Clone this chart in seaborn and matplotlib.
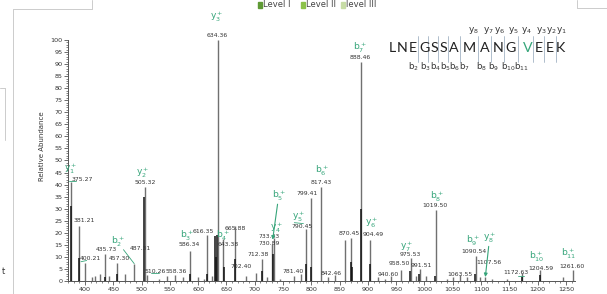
import numpy as np
import pandas as pd
import matplotlib
matplotlib.use("Agg")
import matplotlib.pyplot as plt
from matplotlib.lines import Line2D
import seaborn as sns

# ---------------- data ----------------
# main (grey) peaks: m/z position, relative abundance
grey_mz = [375.3, 390.0, 400.2, 412, 418, 426, 435.7, 442, 457.3, 470, 487.3, 505.3,
           510.3, 530, 545, 558.4, 574, 586.3, 600, 610, 616.4, 625, 634.4, 643.4,
           665.9, 685, 702.4, 712.4, 722, 730.9, 733.4, 745, 770, 781.4, 790.5, 799.4,
           817.4, 830, 842.5, 860, 870.5, 888.5, 904.5, 917, 930, 940.6, 958.5, 975.5,
           985, 991.5, 1003, 1019.5, 1040, 1050, 1063.6, 1075, 1090.5, 1098, 1107.6,
           1120, 1145, 1172.6, 1204.6, 1245, 1261.6]
grey_int = [41, 23, 7.5, 1.5, 2, 3, 11, 2, 7.5, 3, 7, 39,
            2.5, 1, 2, 2.5, 1.5, 12.5, 1.5, 1, 19, 2, 100, 17.5,
            23, 2, 3.5, 9, 1.5, 15.5, 18, 1, 2, 3, 21.5, 34.5,
            39, 1.5, 2.5, 17, 17.7, 91, 17, 1.5, 1, 2, 4.5, 9.5,
            2, 5, 2, 29.5, 1, 1.5, 2.5, 1.5, 10.5, 1.5, 1.5,
            1, 1, 3.5, 4.5, 1.5, 4.5]
# overlay (black) peaks
black_mz = [374.5, 389.5, 435.5, 457.0, 504.8, 586.0, 616.0, 630, 632, 634.0, 645.5,
            665.5, 712.0, 733.0, 790.0, 799.0, 869.5, 872.5, 888.0, 904.0, 975.0,
            990.0, 1019.0, 1090.0, 1172.0, 1204.0]
black_int = [31, 9.5, 1.5, 3, 35, 3, 3, 18.5, 10, 19, 6,
             9, 4, 11, 7, 6, 8, 6, 30, 7, 4,
             3, 2, 3, 1.5, 2.5]

# numeric labels: text, x, y (centre)
num_text = ["375.27", "381.21", "400.21", "435.73", "457.30", "487.31", "505.32", "510.26",
            "558.36", "586.34", "616.35", "634.36", "643.38", "665.88", "702.40", "712.38",
            "733.43", "730.89", "781.40", "790.45", "799.41", "817.43", "842.46", "870.45",
            "888.46", "904.49", "940.60", "958.50", "975.53", "991.51", "1019.50", "1063.55",
            "1090.54", "1107.56", "1172.63", "1204.59", "1261.60"]
num_x = [395, 398, 410, 437, 460, 498, 506, 525, 561, 585, 610, 634, 654, 665, 676, 706,
         725, 725, 767, 784, 792, 818, 836, 867, 886, 910, 936, 955, 975, 995, 1019, 1063,
         1088, 1114, 1161, 1205, 1261]
num_y = [42.3, 25.3, 9.4, 12.9, 9.5, 13.5, 40.8, 4.1, 4.1, 15.2, 20.5, 102, 15.2, 21.6,
         5.9, 10.8, 18.4, 15.4, 4.1, 22.8, 36.4, 40.8, 3.2, 19.8, 92.8, 19.4, 2.5, 7.1,
         10.8, 6.6, 31.5, 2.8, 12.4, 7.8, 3.5, 5.3, 6.2]

# fragment ion labels (centre)
ion_text = [r"y$_1^+$", r"y$_3^+$", r"y$_2^+$", r"b$_2^+$", r"b$_3^+$", r"b$_4^+$", r"b$_5^+$",
            r"y$_4^+$", r"y$_5^+$", r"b$_6^+$", r"b$_7^+$", r"y$_6^+$", r"y$_7^+$", r"b$_8^+$",
            r"b$_9^+$", r"y$_8^+$", r"b$_{10}^+$", r"b$_{11}^+$"]
ion_x = [374, 633, 502, 458, 580, 644, 742, 738, 778, 818, 886, 906, 969, 1022, 1085,
         1115, 1199, 1255]
ion_y = [46.5, 109.5, 45, 16.3, 18.8, 18.8, 35.5, 22.2, 26.5, 45.5, 96.5, 24.2, 14.3, 35,
         16.5, 17.9, 10.2, 11.2]

sequence = list("LNEGSSAMANGVEEK")
seq_px = [392.3, 402.3, 413.3, 424.3, 434.3, 443.3, 453.3, 469, 485, 497.7, 511, 527.7,
          539, 550, 560.7]
seq_colors = ["#222222"] * 11 + ["#36a57a"] + ["#222222"] * 3
cleave_px = [417.7, 428.3, 438.3, 448.3, 460, 477.7, 491, 504.3, 518.3, 533.3, 544.3, 555.7]
y_lab = ["8", "7", "6", "5", "4", "3", "2", "1"]
y_lab_px = [473.3, 488.3, 500, 513.3, 526.7, 541, 551.7, 561.7]
b_lab = ["2", "3", "4", "5", "6", "7", "8", "9", "10", "11"]
b_lab_px = [413.3, 425, 435, 445, 454.3, 464.3, 481.7, 493.3, 508.3, 521]

level_names = ["Level I", "Level II", "level III"]
level_colors = ["#5f9a35", "#8cc24a", "#c7dca6"]

# ---------------- figure ----------------
sns.set_theme(style="ticks")
plt.rcParams["font.family"] = ["DejaVu Sans"]
W, H = 607, 294
fig = plt.figure(figsize=(W / 100, H / 100), dpi=100)
ax = fig.add_axes([68 / W, 1 - 281 / H, (575 - 68) / W, (281 - 11) / H])

GREEN = "#36a57a"
df_g = pd.DataFrame({"mz": grey_mz, "ab": grey_int})
df_b = pd.DataFrame({"mz": black_mz, "ab": black_int})
ax.vlines(df_g["mz"], 0, df_g["ab"], color="#707070", lw=1.0)
ax.vlines(df_b["mz"], 0, df_b["ab"], color="#111111", lw=1.1)

ax.set_xlim(370, 1266)
ax.set_ylim(0, 112)
sns.despine(ax=ax)
ax.spines["left"].set_bounds(0, 100)
ax.spines["bottom"].set_bounds(370, 1266)
for s in ["left", "bottom"]:
    ax.spines[s].set_color("#555555")
    ax.spines[s].set_linewidth(0.7)

ax.set_xticks(np.arange(400, 1251, 50))
ax.set_xticks(np.arange(370, 1266, 10), minor=True)
ax.set_yticks(np.arange(0, 101, 5))
ax.set_yticks(np.arange(0, 101, 1), minor=True)
ax.tick_params(axis="both", which="major", length=3, width=0.6, color="#555555",
               labelsize=4.6, labelcolor="#333333", pad=1)
ax.tick_params(axis="both", which="minor", length=1.6, width=0.5, color="#555555")
ax.set_ylabel("Relative Abundance", fontsize=5, color="#333333", labelpad=4)
ax.grid(False)

for t, x, y in zip(num_text, num_x, num_y):
    ax.text(x, y, t, fontsize=4.4, color="#333333", ha="center", va="center")
for t, x, y in zip(ion_text, ion_x, ion_y):
    ax.text(x, y, t, fontsize=6.6, color=GREEN, ha="center", va="center")

# leader lines / arrows
ax.annotate("", xy=(731, 16), xytext=(741, 33),
            arrowprops=dict(arrowstyle="-|>", color=GREEN, lw=0.8, mutation_scale=5))
ax.annotate("", xy=(1107, 0.5), xytext=(1114, 15.5),
            arrowprops=dict(arrowstyle="-|>", color=GREEN, lw=0.8, mutation_scale=5))
for (x0, y0, x1, y1) in [(468, 13, 487, 7.2), (372, 41.3, 384, 41.3), (770, 24.2, 786, 23.8),
                         (393, 8, 403, 8.5), (517, 3.2, 531, 3.2), (1165, 2.2, 1175, 2.2)]:
    ax.add_line(Line2D([x0, x1], [y0, y1], color=GREEN, lw=0.6))

# peptide sequence (figure pixel coordinates)
def fx(px):
    return px / W

def fy(py):
    return 1 - py / H

for ch, px, col in zip(sequence, seq_px, seq_colors):
    fig.text(fx(px), fy(48), ch, fontsize=10.3, family="Lato", color=col,
             ha="center", va="center")
for n, px in zip(y_lab, y_lab_px):
    fig.text(fx(px), fy(30.5), "y$_{%s}$" % n, fontsize=6.5, color="#333333",
             ha="center", va="center")
for n, px in zip(b_lab, b_lab_px):
    fig.text(fx(px), fy(67), "b$_{%s}$" % n, fontsize=6.2, color="#333333",
             ha="center", va="center")
# cleavage marks
for px in cleave_px:
    fig.add_artist(Line2D([fx(px), fx(px)], [fy(36), fy(62)], color="#8fa4b8", lw=0.5))

# legend fragment at top
lx = [258, 301, 341]
for name, col, px in zip(level_names, level_colors, lx):
    fig.patches.append(plt.Rectangle((fx(px), fy(8)), 4 / W, 6 / H, transform=fig.transFigure,
                                     color=col))
    fig.text(fx(px + 5), fy(4.5), name, fontsize=6, color="#444444", ha="left", va="center")

# frame fragments of the surrounding page
for (x0, y0, x1, y1) in [(13, 9, 13, 294), (13, 9, 92, 9), (92, 0, 92, 9),
                         (0, 88, 5, 88), (5, 88, 5, 140), (577, 0, 577, 8), (577, 8, 607, 8)]:
    fig.add_artist(Line2D([fx(x0), fx(x1)], [fy(y0), fy(y1)], color="#cccccc", lw=0.7))
fig.text(fx(3), fy(272), "t", fontsize=6, color="#333333", ha="center", va="center")

fig.savefig("out.png", dpi=100)
